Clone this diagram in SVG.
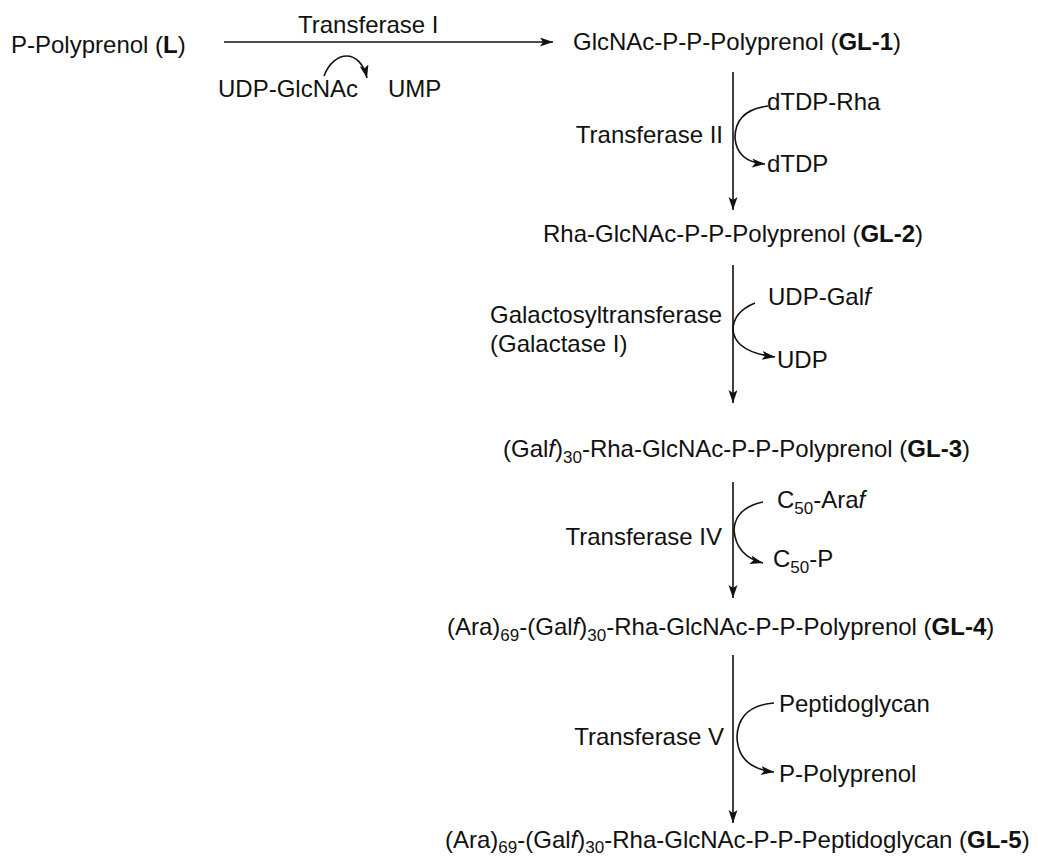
<svg xmlns="http://www.w3.org/2000/svg" width="1038" height="859" viewBox="0 0 1038 859">
<style>
text{font-family:"Liberation Sans",Arial,sans-serif;font-size:24px;fill:#111;}
.b{font-weight:bold;}
.i{font-style:italic;}
.s{font-size:17px;}
.ln{fill:none;stroke:#111;stroke-width:1.6;}
</style>
<defs>
<marker id="ah" markerUnits="userSpaceOnUse" markerWidth="14" markerHeight="10" refX="13" refY="4.5" orient="auto">
<path d="M0,0 L13,4.5 L0,9 L3,4.5 z" fill="#111"/>
</marker>
</defs>
<rect width="1038" height="859" fill="#fff"/>
<g id="connectors">
<path class="ln" d="M224,42 H553" marker-end="url(#ah)"/>
<path class="ln" d="M324,76 C334,50 360,48 367,78" marker-end="url(#ah)"/>
<path class="ln" d="M733,72 V210" marker-end="url(#ah)"/>
<path class="ln" d="M768,106 Q735,110 735,138 Q737,162 765,164" marker-end="url(#ah)"/>
<path class="ln" d="M733,265 V403" marker-end="url(#ah)"/>
<path class="ln" d="M755,303 Q733,312 733,330 Q735,352 775,357" marker-end="url(#ah)"/>
<path class="ln" d="M733,482 V598" marker-end="url(#ah)"/>
<path class="ln" d="M763,502 Q735,508 734,530 Q736,556 763,563" marker-end="url(#ah)"/>
<path class="ln" d="M733,655 V823" marker-end="url(#ah)"/>
<path class="ln" d="M774,703 Q738,706 737,737 Q738,768 774,772" marker-end="url(#ah)"/>
</g>
<g id="L"><text x="11" y="53">P-Polyprenol (<tspan class="b">L</tspan>)</text></g>
<g id="step1-label"><text x="298" y="33">Transferase I</text></g>
<g id="UDP-GlcNAc"><text x="218" y="97">UDP-GlcNAc</text></g>
<g id="UMP"><text x="388" y="97">UMP</text></g>
<g id="GL-1"><text x="573" y="50">GlcNAc-P-P-Polyprenol (<tspan class="b">GL-1</tspan>)</text></g>
<g id="step2-label"><text x="723" y="143" text-anchor="end">Transferase II</text></g>
<g id="dTDP-Rha"><text x="767" y="110">dTDP-Rha</text></g>
<g id="dTDP"><text x="767" y="172">dTDP</text></g>
<g id="GL-2"><text x="543" y="242">Rha-GlcNAc-P-P-Polyprenol (<tspan class="b">GL-2</tspan>)</text></g>
<g id="step3-label"><text x="490" y="323">Galactosyltransferase</text><text x="490" y="352">(Galactase I)</text></g>
<g id="UDP-Galf"><text x="768" y="305">UDP-Gal<tspan class="i">f</tspan></text></g>
<g id="UDP"><text x="777" y="368">UDP</text></g>
<g id="GL-3"><text x="503" y="457">(Gal<tspan class="i">f</tspan>)<tspan class="s" dy="6">30</tspan><tspan dy="-6">-Rha-GlcNAc-P-P-Polyprenol (</tspan><tspan class="b">GL-3</tspan>)</text></g>
<g id="step4-label"><text x="722" y="545" text-anchor="end">Transferase IV</text></g>
<g id="C50-Araf"><text x="777" y="508">C<tspan class="s" dy="6">50</tspan><tspan dy="-6">-Ara</tspan><tspan class="i">f</tspan></text></g>
<g id="C50-P"><text x="773" y="567">C<tspan class="s" dy="6">50</tspan><tspan dy="-6">-P</tspan></text></g>
<g id="GL-4"><text x="447" y="635">(Ara)<tspan class="s" dy="6">69</tspan><tspan dy="-6">-(Gal</tspan><tspan class="i">f</tspan>)<tspan class="s" dy="6">30</tspan><tspan dy="-6">-Rha-GlcNAc-P-P-Polyprenol (</tspan><tspan class="b">GL-4</tspan>)</text></g>
<g id="step5-label"><text x="724" y="745" text-anchor="end">Transferase V</text></g>
<g id="Peptidoglycan"><text x="779" y="712">Peptidoglycan</text></g>
<g id="P-Polyprenol"><text x="779" y="782">P-Polyprenol</text></g>
<g id="GL-5"><text x="445" y="848">(Ara)<tspan class="s" dy="5">69</tspan><tspan dy="-5">-(Gal</tspan><tspan class="i">f</tspan>)<tspan class="s" dy="5">30</tspan><tspan dy="-5">-Rha-GlcNAc-P-P-Peptidoglycan (</tspan><tspan class="b">GL-5</tspan>)</text></g>
</svg>
